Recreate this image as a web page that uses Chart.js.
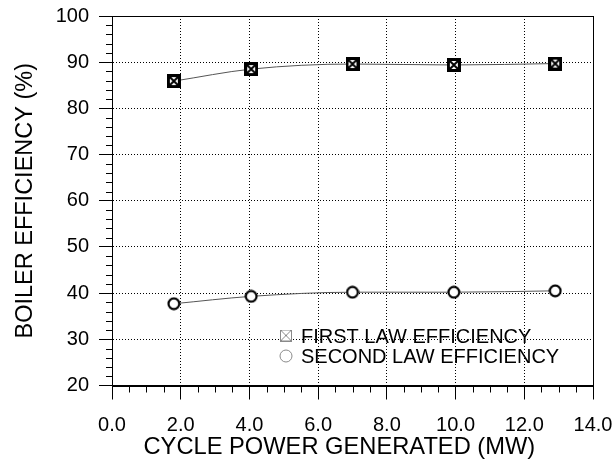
<!DOCTYPE html>
<html>
<head>
<meta charset="utf-8">
<title>Boiler efficiency</title>
<script src="https://cdn.jsdelivr.net/npm/chart.js@4.4.1/dist/chart.umd.min.js"></script>
<style>
  html, body { margin: 0; padding: 0; background: #fff; }
  canvas { display: block; }
</style>
</head>
<body>
<canvas id="grafica" width="616" height="465"></canvas>
<script>
// valores
var potencia = [1.8, 4.05, 7.0, 9.95, 12.9];          // MW
var primeraLey = [85.9, 88.5, 89.6, 89.4, 89.7];       // %
var segundaLey = [37.7, 39.3, 40.2, 40.2, 40.5];       // %
var etiquetas = ['FIRST LAW EFFICIENCY', 'SECOND LAW EFFICIENCY'];
var tituloX = 'CYCLE POWER GENERATED (MW)';
var tituloY = 'BOILER EFFICIENCY (%)';

var fuente = "'Liberation Sans', Arial, sans-serif";
Chart.defaults.font.family = fuente;
Chart.defaults.color = '#000';

// marcador cuadrado con X
function marcaCuadro(tam, color, borde, grosorX) {
    var c = document.createElement('canvas');
    c.width = tam; c.height = tam;
    var g = c.getContext('2d');
    g.fillStyle = '#fff';
    g.fillRect(0, 0, tam, tam);
    g.strokeStyle = color;
    g.lineWidth = borde;
    g.strokeRect(borde / 2, borde / 2, tam - borde, tam - borde);
    g.lineWidth = grosorX;
    g.beginPath();
    g.moveTo(borde, borde); g.lineTo(tam - borde, tam - borde);
    g.moveTo(tam - borde, borde); g.lineTo(borde, tam - borde);
    g.stroke();
    return c;
}

// marcador circulo
function marcaCirculo(tam, color, grosor) {
    var c = document.createElement('canvas');
    c.width = tam; c.height = tam;
    var g = c.getContext('2d');
    g.beginPath();
    g.arc(tam / 2, tam / 2, tam / 2 - grosor / 2 - 0.5, 0, Math.PI * 2);
    g.fillStyle = '#fff';
    g.fill();
    g.strokeStyle = color;
    g.lineWidth = grosor;
    g.stroke();
    return c;
}

var cuadroNegro = marcaCuadro(14, '#000', 3, 2);
var circuloNegro = marcaCirculo(14, '#000', 2.2);
var cuadroGris = marcaCuadro(12, '#8a8a8a', 1, 1);
var circuloGris = marcaCirculo(14, '#8a8a8a', 1);

function puntos(ys) {
    return potencia.map(function (x, i) { return { x: x, y: ys[i] }; });
}

function sinRelleno(s) {
    s.paddingLeft = 0; s.paddingRight = 0;
    s.paddingTop = 0; s.paddingBottom = 0;
}

// marcas menores, marco y leyenda
var extras = {
    id: 'extras',
    beforeDatasetsDraw: function (chart) {
        var ctx = chart.ctx;
        var a = chart.chartArea;
        var sx = chart.scales.x, sy = chart.scales.y;
        ctx.save();
        ctx.strokeStyle = '#000';
        ctx.lineWidth = 1;
        ctx.beginPath();
        var v, p;
        for (v = 0.5; v < 14; v += 0.5) {
            if (v % 2 === 0) continue;
            p = Math.round(sx.getPixelForValue(v)) + 0.5;
            ctx.moveTo(p, a.bottom);
            ctx.lineTo(p, a.bottom + 7);
        }
        for (v = 22; v < 100; v += 2) {
            if (v % 10 === 0) continue;
            p = Math.round(sy.getPixelForValue(v)) + 0.5;
            ctx.moveTo(a.left - 6, p);
            ctx.lineTo(a.left, p);
        }
        ctx.stroke();
        ctx.strokeRect(Math.round(a.left) + 0.5, Math.round(a.top) + 0.5,
            Math.round(a.right - a.left), Math.round(a.bottom - a.top));
        ctx.restore();
    },
    afterDraw: function (chart) {
        var ctx = chart.ctx;
        ctx.save();
        ctx.font = '20px ' + fuente;
        ctx.fillStyle = '#000';
        ctx.textBaseline = 'alphabetic';
        ctx.textAlign = 'left';
        var filas = [335.5, 356];
        ctx.drawImage(cuadroGris, 280, filas[0] - 6);
        ctx.drawImage(circuloGris, 279, filas[1] - 7);
        ctx.fillText(etiquetas[0], 301, filas[0] + 7.2);
        ctx.fillText(etiquetas[1], 301, filas[1] + 7.2);
        ctx.restore();
    }
};

var ctx = document.getElementById('grafica').getContext('2d');
var grafica = new Chart(ctx, {
    type: 'scatter',
    data: {
        datasets: [{
            label: etiquetas[0],
            data: puntos(primeraLey),
            showLine: true,
            borderColor: '#555',
            borderWidth: 1,
            cubicInterpolationMode: 'monotone',
            pointStyle: cuadroNegro,
            pointRadius: 6
        }, {
            label: etiquetas[1],
            data: puntos(segundaLey),
            showLine: true,
            borderColor: '#555',
            borderWidth: 1,
            cubicInterpolationMode: 'monotone',
            pointStyle: circuloNegro,
            pointRadius: 6
        }]
    },
    options: {
        responsive: false,
        animation: false,
        layout: { padding: { top: 16, right: 23, left: 0, bottom: 0 } },
        plugins: {
            legend: { display: false },
            tooltip: { enabled: false }
        },
        scales: {
            x: {
                type: 'linear',
                min: 0,
                max: 14,
                afterFit: function (s) { s.height = 79.5; sinRelleno(s); },
                ticks: {
                    stepSize: 2,
                    padding: 14,
                    font: { size: 20 },
                    callback: function (v) { return v.toFixed(1); }
                },
                grid: {
                    color: '#000',
                    tickColor: '#000',
                    tickLength: 14,
                    lineWidth: 1
                },
                border: { display: true, color: '#000', dash: [1, 2] },
                title: {
                    display: true,
                    text: tituloX + '    ',
                    font: { size: 23.7 },
                    padding: { top: 0, bottom: 3 }
                }
            },
            y: {
                min: 20,
                max: 100,
                afterFit: function (s) { s.width = 112; sinRelleno(s); },
                ticks: {
                    stepSize: 10,
                    padding: 10,
                    font: { size: 20 }
                },
                grid: {
                    color: '#000',
                    tickColor: '#000',
                    tickLength: 13,
                    lineWidth: 1
                },
                border: { display: true, color: '#000', dash: [1, 2] },
                title: {
                    display: true,
                    text: tituloY,
                    font: { size: 23.5 },
                    padding: { top: 11, bottom: 0 }
                }
            }
        }
    },
    plugins: [extras]
});
</script>
</body>
</html>
